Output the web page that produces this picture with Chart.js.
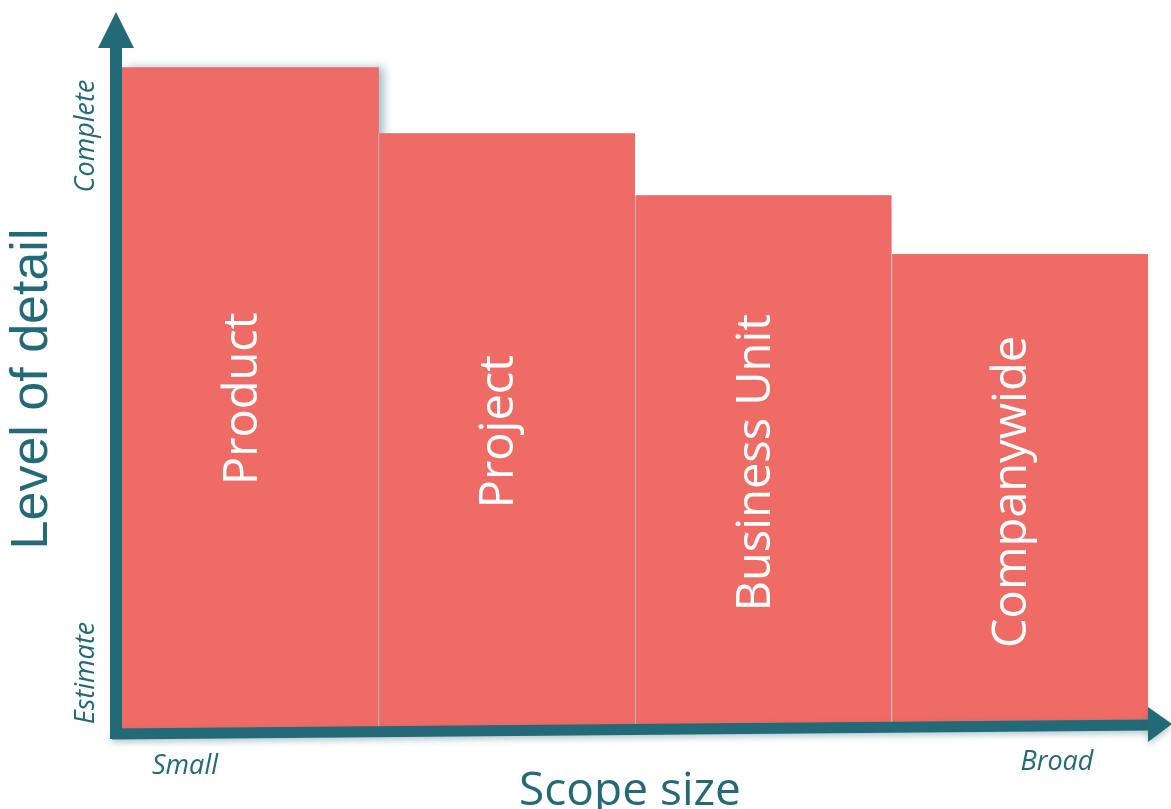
<!DOCTYPE html>
<html>
<head>
<meta charset="utf-8">
<title>Level of detail vs scope size</title>
<script src="https://cdn.jsdelivr.net/npm/chart.js@4.4.0/dist/chart.umd.min.js"></script>
<style>
    html, body { margin: 0; padding: 0; background: #ffffff; }
    #wrap { width: 1171px; height: 809px; }
</style>
</head>
<body>
<div id="wrap"><canvas id="scope"></canvas></div>
<script>
// data (0 = Estimate, 100 = Complete)
const scopes = ['Product', 'Project', 'Business Unit', 'Companywide'];
const detail = [96, 86.5, 77.5, 69];
const levelLabels = ['Estimate', 'Complete'];
const scopeLabels = ['Small', 'Broad'];
const yTitle = 'Level of detail';
const xTitle = 'Scope size';

const teal = '#226a77';
const salmon = '#ef6b65';

// shadow behind the bars, like the drop shadow in the picture
const barShadow = {
    id: 'barShadow',
    beforeDatasetsDraw(chart) {
        const ctx = chart.ctx;
        ctx.save();
        ctx.shadowColor = 'rgba(40,100,115,0.45)';
        ctx.shadowBlur = 9;
        ctx.shadowOffsetX = 5;
        ctx.shadowOffsetY = 0;
    },
    afterDatasetsDraw(chart) {
        chart.ctx.restore();
    }
};

// bar names written inside the bars
const barNames = {
    id: 'barNames',
    afterDatasetsDraw(chart) {
        const ctx = chart.ctx;
        const meta = chart.getDatasetMeta(0);
        ctx.save();
        ctx.fillStyle = '#ffffff';
        ctx.font = '47px "Open Sans"';
        ctx.textAlign = 'center';
        ctx.textBaseline = 'middle';
        meta.data.forEach((bar, i) => {
            const cy = (bar.y + bar.base) / 2;
            ctx.save();
            ctx.translate(bar.x - 7, cy);
            ctx.rotate(-Math.PI / 2);
            ctx.fillText(scopes[i], 0, 0);
            ctx.restore();
        });
        ctx.restore();
    }
};

// arrows, axis titles and the end labels
const arrows = {
    id: 'arrows',
    afterDraw(chart) {
        const ctx = chart.ctx;
        const a = chart.chartArea;
        const ax = a.left - 6;
        ctx.save();
        ctx.fillStyle = teal;
        ctx.strokeStyle = teal;
        ctx.shadowColor = 'rgba(40,100,115,0.35)';
        ctx.shadowBlur = 6;
        ctx.shadowOffsetY = 3;

        // x axis, slightly tilted
        ctx.lineWidth = 11;
        ctx.beginPath();
        ctx.moveTo(ax - 4, a.bottom + 4);
        ctx.lineTo(a.right + 4, a.bottom - 5);
        ctx.stroke();
        ctx.beginPath();
        ctx.moveTo(a.right, a.bottom - 23);
        ctx.lineTo(a.right + 24, a.bottom - 6);
        ctx.lineTo(a.right, a.bottom + 12);
        ctx.closePath();
        ctx.fill();

        // y axis
        ctx.shadowBlur = 0;
        ctx.shadowOffsetY = 0;
        ctx.lineWidth = 12;
        ctx.beginPath();
        ctx.moveTo(ax, a.bottom + 9);
        ctx.lineTo(ax, a.top + 6);
        ctx.stroke();
        ctx.beginPath();
        ctx.moveTo(ax - 18, a.top + 8);
        ctx.lineTo(ax, a.top - 28);
        ctx.lineTo(ax + 18, a.top + 8);
        ctx.closePath();
        ctx.fill();

        // titles
        ctx.textAlign = 'center';
        ctx.textBaseline = 'middle';
        ctx.font = '52px "Liberation Sans"';
        ctx.save();
        ctx.translate(33, 389);
        ctx.rotate(-Math.PI / 2);
        ctx.fillText(yTitle, 0, 0);
        ctx.restore();

        ctx.font = '46px "Open Sans"';
        ctx.textBaseline = 'alphabetic';
        ctx.fillText(xTitle, 630, 805);

        // end labels
        ctx.font = 'italic 27px "Open Sans"';
        ctx.textBaseline = 'middle';
        const yPos = [673, 136];
        levelLabels.forEach((t, i) => {
            ctx.save();
            ctx.translate(86, yPos[i]);
            ctx.rotate(-Math.PI / 2);
            ctx.fillText(t, 0, 0);
            ctx.restore();
        });
        ctx.fillText(scopeLabels[0], 185, 766);
        ctx.fillText(scopeLabels[1], 1057, 762);
        ctx.restore();
    }
};

const chart = new Chart(document.getElementById('scope').getContext('2d'), {
    type: 'bar',
    data: {
        labels: scopes,
        datasets: [{
            data: detail,
            backgroundColor: salmon,
            borderColor: 'rgba(175,212,218,0.9)',
            borderWidth: (c) => ({ left: c.dataIndex > 0 ? 1 : 0, top: 0, right: 0, bottom: 0 }),
            borderSkipped: false,
            barPercentage: 1,
            categoryPercentage: 1
        }]
    },
    options: {
        responsive: true,
        maintainAspectRatio: false,
        animation: false,
        layout: { padding: { left: 122, right: 23, top: 40, bottom: 79 } },
        plugins: {
            legend: { display: false },
            tooltip: { enabled: false }
        },
        scales: {
            x: { display: false },
            y: { display: false, min: 0, max: 100 }
        }
    },
    plugins: [barShadow, barNames, arrows]
});
</script>
</body>
</html>
